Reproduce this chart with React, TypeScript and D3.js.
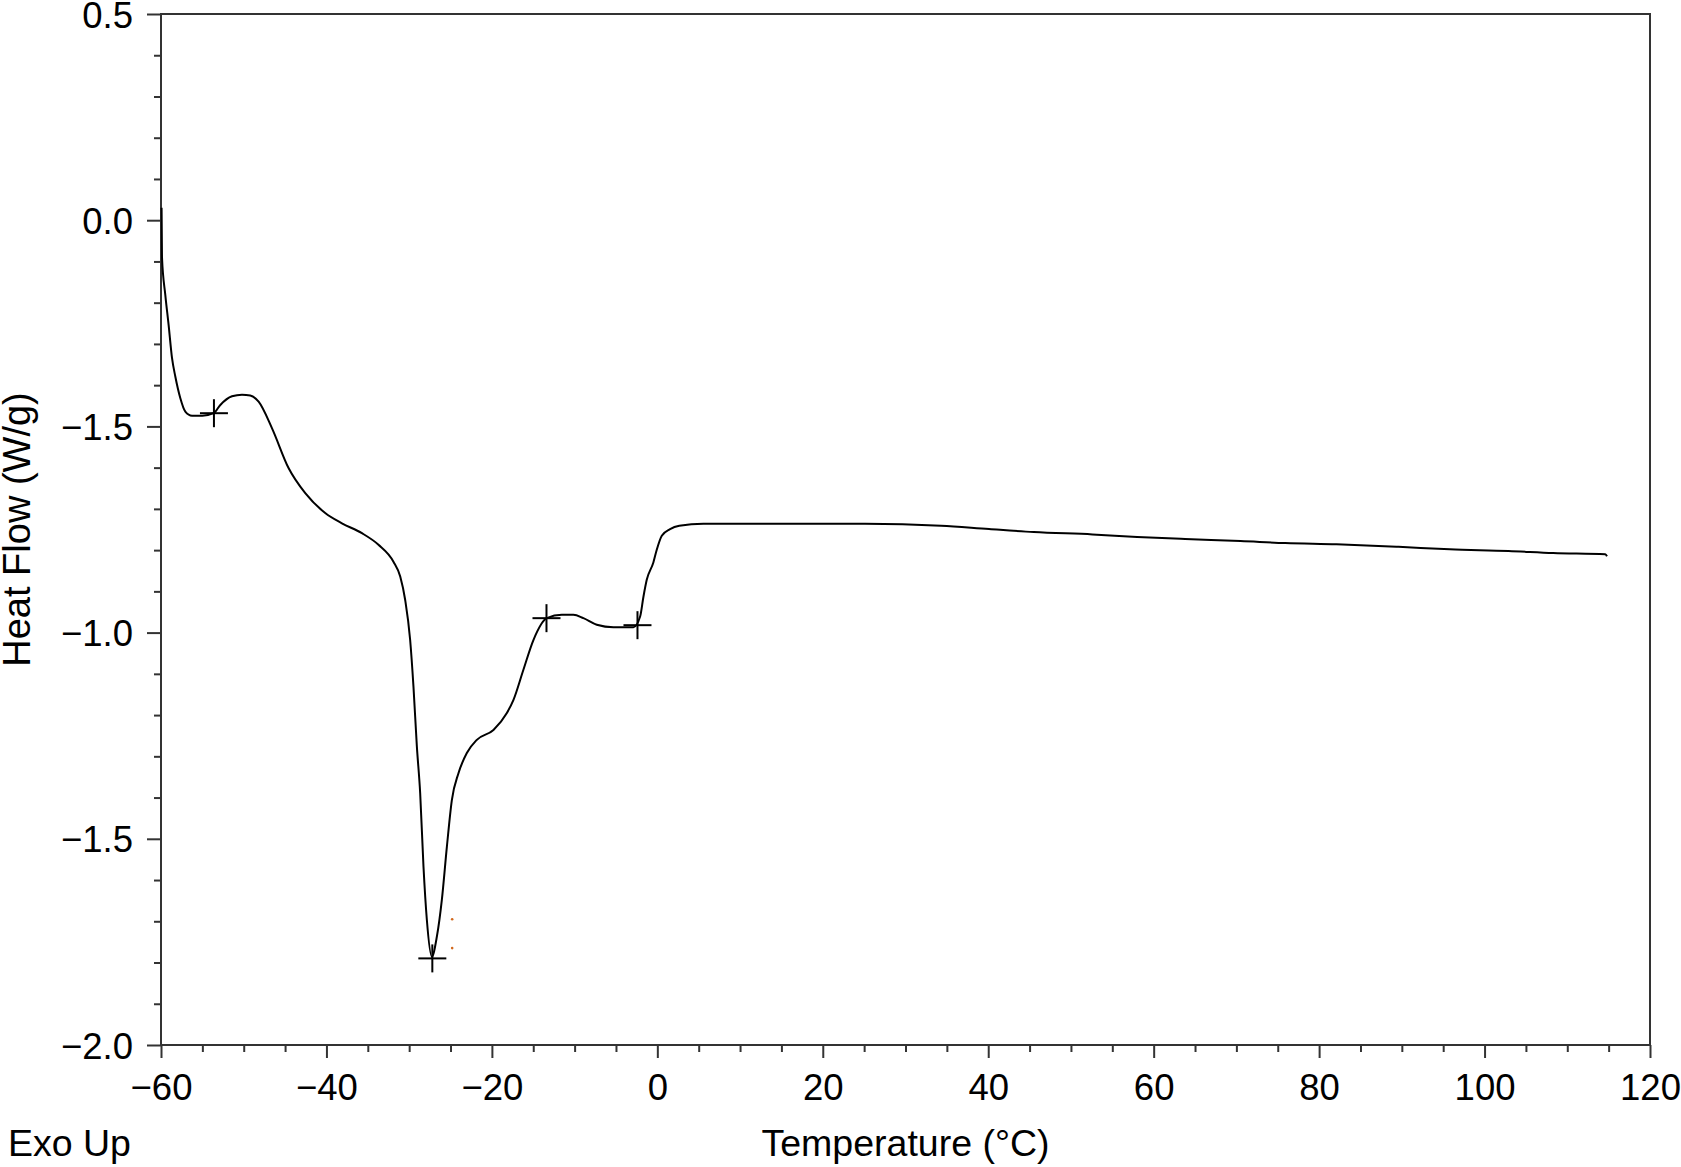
import { useEffect, useRef } from 'react';
import * as d3 from 'd3';

const width = 1681;
const height = 1167;
const [mt, mr, mb, ml] = [14, 31, 122, 161];
const graphWidth = width - ml - mr;
const graphHeight = height - mt - mb;

// DSC trace
const temps = [
    -59.93, -59.88, -59.48, -59.08, -58.67, -58.27, -57.67, -57.06, -56.25, -55.0, -53.64, -52.83, -51.42, -50.21, -49.21, -48.2,
    -46.59, -44.58, -42.56, -40.15, -38.13, -35.71, -33.71, -31.9, -31.08, -30.48, -29.88, -29.48, -29.07, -28.67, -28.27, -27.86,
    -27.26, -26.65, -26.05, -25.44, -24.84, -24.04, -23.03, -21.82, -19.81, -18.19, -17.39, -16.19, -14.98, -13.36, -11.55, -10.15,
    -8.94, -7.32, -5.31, -2.89, -2.08, -1.68, -1.28, -0.48, -0.07, 0.54, 1.54, 2.65, 5.57, 25.1, 34.3, 40.1, 45.5, 52.6, 58.0, 63.8,
    70.5, 75.9, 82.1, 89.6, 95.8, 102.9, 108.3, 114.6, 114.8
];
const heatFlow = [
    0.03, -0.09, -0.181, -0.254, -0.334, -0.379, -0.431, -0.464, -0.474, -0.474, -0.468, -0.448, -0.427, -0.423, -0.425, -0.44,
    -0.504, -0.601, -0.662, -0.71, -0.735, -0.759, -0.787, -0.828, -0.864, -0.921, -1.018, -1.131, -1.276, -1.389, -1.567, -1.697,
    -1.786, -1.737, -1.648, -1.519, -1.406, -1.341, -1.292, -1.26, -1.236, -1.195, -1.163, -1.09, -1.018, -0.965, -0.957, -0.957,
    -0.965, -0.981, -0.987, -0.987, -0.961, -0.913, -0.872, -0.83, -0.799, -0.765, -0.749, -0.741, -0.736, -0.736, -0.741, -0.749,
    -0.756, -0.762, -0.768, -0.773, -0.778, -0.783, -0.786, -0.792, -0.798, -0.802, -0.807, -0.81, -0.815
];

// analysis cross markers
const markerT = [-53.6, -27.2, -13.4, -2.4];
const markerHF = [-0.468, -1.79, -0.965, -0.982];

// small orange dots next to the peak
const dotT = [-24.8, -24.8];
const dotHF = [-1.695, -1.765];

const xTicks = [-60, -40, -20, 0, 20, 40, 60, 80, 100, 120];
const xTickLabels = ['−60', '−40', '−20', '0', '20', '40', '60', '80', '100', '120'];
const yTicks = [0.5, 0, -0.5, -1, -1.5, -2];
const yTickLabels = ['0.5', '0.0', '−1.5', '−1.0', '−1.5', '−2.0'];

const font = '"Liberation Sans", Arial, Helvetica, sans-serif';
const axisColor = '#333';

type Pt = { t: number; v: number };

export default function App() {
    const ref = useRef<SVGSVGElement>(null);

    useEffect(() => {
        const svg = d3.select(ref.current);
        svg.selectAll('*').remove();

        const graph = svg.append('g').attr('transform', `translate(${ml}, ${mt})`);

        const xScale = d3.scaleLinear().domain([-60, 120]).range([0, graphWidth]);
        const yScale = d3.scaleLinear().domain([-2, 0.5]).range([graphHeight, 0]);

        // minor ticks
        const xMinor = d3.range(-60, 120.01, 5).filter((d) => d % 20 !== 0);
        const yMinor = d3.range(-2, 0.501, 0.1).filter((d) => Math.abs(d * 2 - Math.round(d * 2)) > 0.01);

        graph
            .append('g')
            .attr('transform', `translate(0, ${graphHeight})`)
            .call(d3.axisBottom(xScale).tickValues(xMinor).tickSize(7).tickFormat(() => ''))
            .call((g) => g.select('.domain').remove())
            .call((g) => g.selectAll('line').attr('stroke', axisColor).attr('stroke-width', 2));

        graph
            .append('g')
            .call(d3.axisLeft(yScale).tickValues(yMinor).tickSize(7).tickFormat(() => ''))
            .call((g) => g.select('.domain').remove())
            .call((g) => g.selectAll('line').attr('stroke', axisColor).attr('stroke-width', 2));

        // major ticks + labels
        graph
            .append('g')
            .attr('transform', `translate(0, ${graphHeight})`)
            .call(
                d3
                    .axisBottom(xScale)
                    .tickValues(xTicks)
                    .tickSize(13)
                    .tickPadding(16)
                    .tickFormat((_d, i) => xTickLabels[i])
            )
            .call((g) => g.select('.domain').remove())
            .call((g) => g.selectAll('line').attr('stroke', axisColor).attr('stroke-width', 2))
            .call((g) => g.selectAll('text').attr('font-family', font).attr('font-size', 36.5).attr('fill', '#000'));

        graph
            .append('g')
            .call(
                d3
                    .axisLeft(yScale)
                    .tickValues(yTicks)
                    .tickSize(14)
                    .tickPadding(14)
                    .tickFormat((_d, i) => yTickLabels[i])
            )
            .call((g) => g.select('.domain').remove())
            .call((g) => g.selectAll('line').attr('stroke', axisColor).attr('stroke-width', 2))
            .call((g) =>
                g.selectAll('text').attr('font-family', font).attr('font-size', 36.5).attr('fill', '#000').attr('dy', '0.36em')
            );

        // frame
        graph
            .append('rect')
            .attr('x', 0)
            .attr('y', 0)
            .attr('width', graphWidth)
            .attr('height', graphHeight)
            .attr('fill', 'none')
            .attr('stroke', axisColor)
            .attr('stroke-width', 2);

        // curve
        const data: Pt[] = temps.map((t, i) => ({ t, v: heatFlow[i] }));
        const line = d3
            .line<Pt>()
            .curve(d3.curveMonotoneX)
            .x((d) => xScale(d.t))
            .y((d) => yScale(d.v));

        graph.append('path').datum(data).attr('fill', 'none').attr('stroke', '#000').attr('stroke-width', 2).attr('d', line);

        // cross markers
        const half = 14;
        const crosses = graph
            .append('g')
            .selectAll('g')
            .data(markerT.map((t, i) => ({ t, v: markerHF[i] })))
            .join('g')
            .attr('transform', (d) => `translate(${xScale(d.t)}, ${yScale(d.v)})`);
        crosses
            .append('line')
            .attr('x1', -half)
            .attr('x2', half)
            .attr('stroke', '#000')
            .attr('stroke-width', 2);
        crosses
            .append('line')
            .attr('y1', -half)
            .attr('y2', half)
            .attr('stroke', '#000')
            .attr('stroke-width', 2);

        graph
            .append('g')
            .selectAll('circle')
            .data(dotT.map((t, i) => ({ t, v: dotHF[i] })))
            .join('circle')
            .attr('cx', (d) => xScale(d.t))
            .attr('cy', (d) => yScale(d.v))
            .attr('r', 1.3)
            .attr('fill', '#d2691e');

        // titles
        svg.append('text')
            .attr('x', ml + graphWidth / 2)
            .attr('y', 1156)
            .attr('text-anchor', 'middle')
            .attr('font-family', font)
            .attr('font-size', 37.5)
            .text('Temperature (°C)');

        svg.append('text')
            .attr('x', 8)
            .attr('y', 1156)
            .attr('font-family', font)
            .attr('font-size', 37.5)
            .text('Exo Up');

        svg.append('text')
            .attr('transform', `translate(30, ${mt + graphHeight / 2}) rotate(-90)`)
            .attr('text-anchor', 'middle')
            .attr('font-family', font)
            .attr('font-size', 38)
            .text('Heat Flow (W/g)');
    }, []);

    return (
        <svg
            ref={ref}
            width={width}
            height={height}
            style={{ position: 'absolute', left: 0, top: 0, background: '#fff', display: 'block' }}
        />
    );
}
